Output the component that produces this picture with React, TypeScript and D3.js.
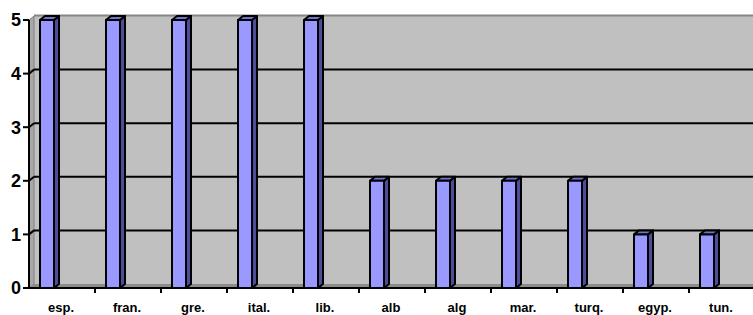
import React from 'react';
import * as d3 from 'd3';

const categories = ['esp.', 'fran.', 'gre.', 'ital.', 'lib.', 'alb', 'alg', 'mar.', 'turq.', 'egyp.', 'tun.'];
const values = [5, 5, 5, 5, 5, 2, 2, 2, 2, 1, 1];
const yTicks = [0, 1, 2, 3, 4, 5];

const W = 753;
const H = 315;
const axisX = 29;
const depthX = 5;
const depthY = 4;
const barW = 14;

export default function App() {
  const x = d3.scaleBand<string>().domain(categories).range([axisX, 755]).padding(0);
  const y = d3.scaleLinear().domain([0, 5]).range([288, 20]);
  const y0 = y(0);
  const top = y(5);
  const backL = axisX + depthX;

  return (
    <div style={{ position: 'absolute', left: 0, top: 0 }}>
      <svg width={W} height={H} style={{ display: 'block', background: '#fff' }}>
        {/* back wall */}
        <rect x={backL} y={top - depthY} width={W - backL} height={y0 - top} fill="#c0c0c0" />
        <line x1={backL} x2={W} y1={top - depthY - 0.5} y2={top - depthY - 0.5} stroke="#858585" strokeWidth={2} />
        {/* left wall */}
        <polygon
          points={`${axisX},${top} ${backL},${top - depthY} ${backL},${y0 - depthY} ${axisX},${y0}`}
          fill="#a8a8a8" stroke="#808080" strokeWidth={1} />
        {/* floor */}
        <polygon
          points={`${axisX},${y0} ${backL},${y0 - depthY} ${W},${y0 - depthY} ${W},${y0}`}
          fill="#8c8c8c" />
        {/* gridlines */}
        {yTicks.filter(t => t > 0 && t < 5).map(t => (
          <g key={t}>
            <line x1={backL} x2={W} y1={y(t) - depthY} y2={y(t) - depthY} stroke="#000" strokeWidth={2} />
            <line x1={axisX} x2={backL} y1={y(t)} y2={y(t) - depthY} stroke="#000" strokeWidth={2} />
          </g>
        ))}
        {/* bars */}
        {categories.map((c, i) => {
          const cx = (x(c) as number) + x.bandwidth() / 2;
          const l = cx - 22;
          const yt = y(values[i]);
          return (
            <g key={c} stroke="#000" strokeWidth={2} strokeLinejoin="round">
              <polygon
                points={`${l + barW},${yt} ${l + barW + depthX},${yt - depthY} ${l + barW + depthX},${y0 - depthY} ${l + barW},${y0}`}
                fill="#4d4d99" />
              <polygon
                points={`${l},${yt} ${l + depthX},${yt - depthY} ${l + barW + depthX},${yt - depthY} ${l + barW},${yt}`}
                fill="#7373cc" />
              <rect x={l} y={yt} width={barW} height={y0 - yt} fill="#9999ff" />
            </g>
          );
        })}
        {/* y axis */}
        <line x1={axisX} x2={axisX} y1={top} y2={y0} stroke="#000" strokeWidth={2} />
        {yTicks.map(t => (
          <g key={t}>
            <line x1={axisX - 6} x2={axisX} y1={y(t)} y2={y(t)} stroke="#000" strokeWidth={2} />
            <text x={axisX - 8} y={y(t)} dy="0.36em" textAnchor="end"
              fontFamily="Liberation Sans, Arial, sans-serif" fontWeight="bold" fontSize={18} fill="#000">{t}</text>
          </g>
        ))}
        {/* x axis */}
        <line x1={axisX} x2={W} y1={y0} y2={y0} stroke="#000" strokeWidth={2} />
        {categories.map(c => (
          <line key={'t' + c} x1={(x(c) as number) + x.bandwidth()} x2={(x(c) as number) + x.bandwidth()}
            y1={y0} y2={y0 + 5} stroke="#000" strokeWidth={2} />
        ))}
        {categories.map(c => (
          <text key={'l' + c} x={(x(c) as number) + x.bandwidth() / 2 - 1} y={312} textAnchor="middle"
            fontFamily="Liberation Sans, Arial, sans-serif" fontWeight="bold" fontSize={13} fill="#000">{c}</text>
        ))}
      </svg>
    </div>
  );
}
